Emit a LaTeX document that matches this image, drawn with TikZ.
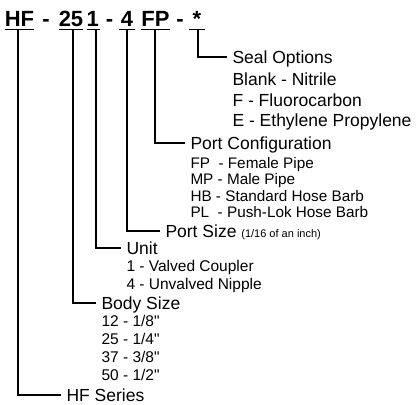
\documentclass[tikz,border=0pt]{standalone}
\usepackage{fontspec}
\setmainfont{Liberation Sans}[Ligatures=TeXOff]
\usetikzlibrary{positioning}

\begin{document}
\begin{tikzpicture}[
  x=1pt,y=-1pt,line width=1.7pt,outer sep=0pt,
  part/.style={font=\fontsize{22}{22}\selectfont\bfseries,inner sep=0pt,anchor=base,text height=15pt,text depth=2.5pt},
  head/.style={font=\fontsize{17.5}{18}\selectfont,inner xsep=5.5pt,inner ysep=0pt,anchor=west,text height=12.5pt,text depth=0pt},
  item/.style={font=\fontsize{15.5}{16}\selectfont,inner xsep=5.5pt,inner ysep=0pt,text height=11pt,text depth=0pt},
  bigitem/.style={item,font=\fontsize{17.5}{18}\selectfont,text height=12.5pt},
  small/.style={item,font=\fontsize{15.3}{16}\selectfont}
]
\useasboundingbox (0,0) rectangle (417,404);
% part number
\node[part,minimum width=27pt] (hf) at (19.5,27) {HF};
\node[part] (d1) at (46,27) {-};
\node[part,minimum width=24pt] (bs) at (71,27) {25};
\node[part,minimum width=13pt] (un) at (93.5,27) {\kern-1.5pt1};
\node[part] (d2) at (109.5,27) {-};
\node[part,minimum width=16pt] (ps) at (127,27) {4};
\node[part,minimum width=29pt] (pc) at (155.5,27) {FP};
\node[part] (d3) at (180,27) {-};
\node[part,minimum width=16pt] (so) at (197,27) {*};
\foreach \p in {hf,bs,un,ps,pc,so}
  \draw (\p.south west) -- (\p.south east);
% seal options
\node[head] (seal) at (227,57) {Seal Options};
\node[bigitem,below=10pt of seal.south west,anchor=north west] (nbr) {Blank - Nitrile};
\node[bigitem,below=8pt of nbr.south west,anchor=north west] (fkm) {F - Fluorocarbon};
\node[bigitem,below=8pt of fkm.south west,anchor=north west] (epdm) {E - Ethylene Propylene};
% port configuration
\node[head] (conf) at (185,143) {Port Configuration};
\node[small,below=8.25pt of conf.south west,anchor=north west] (fp) {FP\ \ - Female Pipe};
\node[small,below=5.3pt of fp.south west,anchor=north west] (mp) {MP - Male Pipe};
\node[small,below=5.3pt of mp.south west,anchor=north west] (hb) {HB - Standard Hose Barb};
\node[small,below=5.3pt of hb.south west,anchor=north west] (pl) {PL\ \ - Push-Lok Hose Barb};
% port size
\node[head] (size) at (160,231) {Port Size {\fontsize{11}{12}\selectfont(1/16 of an inch)}};
% unit
\node[head] (unit) at (121,248) {Unit};
\node[item,below=6.25pt of unit.south west,anchor=north west] (vc) {1 - Valved Coupler};
\node[item,below=7pt of vc.south west,anchor=north west] (un4) {4 - Unvalved Nipple};
% body size
\node[head] (body) at (96,303) {Body Size};
\node[item,below=6.25pt of body.south west,anchor=north west] (b12) {12 - 1/8"};
\node[item,below=7pt of b12.south west,anchor=north west] (b25) {25 - 1/4"};
\node[item,below=7pt of b25.south west,anchor=north west] (b37) {37 - 3/8"};
\node[item,below=7pt of b37.south west,anchor=north west] (b50) {50 - 1/2"};
% series
\node[head] (series) at (61,395) {HF Series};
% leaders
\draw ([xshift=1pt]so.south) |- (seal.west);
\draw ([xshift=-0.5pt]pc.south) |- (conf.west);
\draw (ps.south) |- (size.west);
\draw ([xshift=2.5pt]un.south) |- (unit.west);
\draw ([xshift=2pt]bs.south) |- (body.west);
\draw ([xshift=-1.5pt]hf.south) |- (series.west);
\end{tikzpicture}
\end{document}
